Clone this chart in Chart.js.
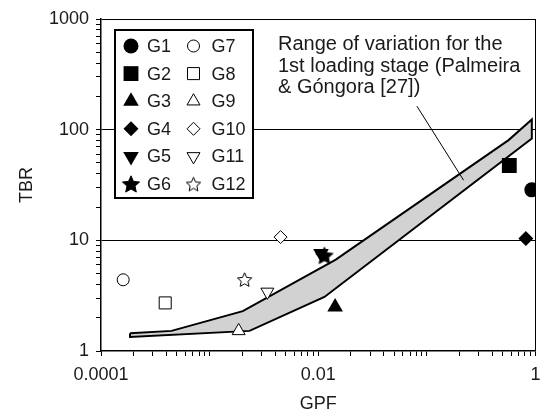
<!DOCTYPE html>
<html>
<head>
<meta charset="utf-8">
<script src="https://cdn.jsdelivr.net/npm/chart.js@4.4.1/dist/chart.umd.min.js"></script>
<style>
  body { margin: 0; background: #fff; }
  canvas { display: block; }
</style>
</head>
<body>
<canvas id="tbrChart" width="544" height="416"></canvas>
<script>
// groups and measured values (GPF, TBR)
const groups = ['G1', 'G2', 'G3', 'G4', 'G5', 'G6', 'G7', 'G8', 'G9', 'G10', 'G11', 'G12'];
const gpf = [0.925, 0.574, 0.0143, 0.815, 0.0106, 0.0114, 0.00016, 0.00039, 0.00185, 0.0045, 0.0034, 0.0021];
const tbr = [28.6, 47.4, 2.5, 10.4, 7.6, 7.3, 4.4, 2.72, 1.52, 10.7, 3.42, 4.43];

// range of variation band (Palmeira & Góngora)
const bandUpperX = [0.000185, 0.000446, 0.00202, 0.0145, 0.565, 0.925];
const bandUpperY = [1.45, 1.52, 2.29, 6.7, 80.5, 123.7];
const bandLowerX = [0.000185, 0.00233, 0.0114, 0.925];
const bandLowerY = [1.34, 1.52, 3.08, 83.2];

const xLabeled = [0.0001, 0.01, 1];
const yLabeled = [1, 10, 100, 1000];
const yGridAt = [10, 100, 1000];

const annotationLines = ['Range of variation for the', '1st loading stage (Palmeira', '& Góngora [27])'];

function logTicks(fromExp, toExp) {
    let out = [];
    for (let e = fromExp; e < toExp; e++) {
        for (let m = 1; m <= 9; m++) out.push(parseFloat(m + 'e' + e));
    }
    out.push(parseFloat('1e' + toExp));
    return out;
}

function makeStar(size, fill) {
    const c = document.createElement('canvas');
    c.width = size; c.height = size;
    const g = c.getContext('2d');
    const cx = size / 2, cy = size / 2 + 0.8;
    const ro = size / 2 - 1, ri = ro * 0.47;
    g.beginPath();
    for (let i = 0; i < 10; i++) {
        const r = i % 2 === 0 ? ro : ri;
        const a = -Math.PI / 2 + i * Math.PI / 5;
        g.lineTo(cx + r * Math.cos(a), cy + r * Math.sin(a));
    }
    g.closePath();
    g.fillStyle = fill;
    g.fill();
    g.strokeStyle = '#000';
    g.lineWidth = 1;
    g.stroke();
    return c;
}

const markers = [
    { style: 'circle', r: 7.5, fill: true },
    { style: 'rect', r: 10.5, fill: true },
    { style: 'triangle', r: 9, fill: true },
    { style: 'rectRot', r: 7.5, fill: true },
    { style: 'triangle', r: 9, fill: true, rot: 180 },
    { style: makeStar(20, '#000'), r: 10, fill: true },
    { style: 'circle', r: 6, fill: false },
    { style: 'rect', r: 8.5, fill: false },
    { style: 'triangle', r: 7.5, fill: false },
    { style: 'rectRot', r: 6.5, fill: false },
    { style: 'triangle', r: 7.5, fill: false, rot: 180 },
    { style: makeStar(17, '#fff'), r: 8.5, fill: false },
];

const pointSets = groups.map((g, i) => ({
    label: g,
    data: [{ x: gpf[i], y: tbr[i] }],
    pointStyle: markers[i].style,
    pointRadius: markers[i].r,
    pointRotation: markers[i].rot || 0,
    backgroundColor: markers[i].fill ? '#000' : '#fff',
    borderColor: '#000',
    borderWidth: markers[i].fill ? 0 : 1,
    showLine: false,
    order: 0,
}));

const bandPoly = bandUpperX.map((x, i) => ({ x: x, y: bandUpperY[i] }))
    .concat(bandLowerX.map((x, i) => ({ x: x, y: bandLowerY[i] })).reverse());
bandPoly.push(bandPoly[0]);

const bandSet = {
    label: 'band',
    data: bandPoly,
    showLine: true,
    fill: 'shape',
    backgroundColor: '#d2d2d2',
    borderColor: '#000',
    borderWidth: 2,
    pointRadius: 0,
    tension: 0,
    order: 5,
};

const groupLegend = {
    id: 'groupLegend',
    afterDraw(chart) {
        const ctx = chart.ctx;
        ctx.save();
        ctx.strokeStyle = '#000';
        ctx.lineWidth = 2;
        ctx.fillStyle = '#fff';
        ctx.fillRect(115, 30, 138, 168);
        ctx.strokeRect(115, 30, 138, 168);
        ctx.font = '18px Arial, "Liberation Sans", sans-serif';
        ctx.textBaseline = 'middle';
        pointSets.forEach((ds, i) => {
            const col = Math.floor(i / 6), row = i % 6;
            const px = col === 0 ? 131 : 193.5;
            const py = 46 + row * 27.6;
            ctx.fillStyle = ds.backgroundColor;
            ctx.strokeStyle = '#000';
            ctx.lineWidth = 1;
            Chart.helpers.drawPoint(ctx, {
                pointStyle: ds.pointStyle,
                radius: ds.pointRadius,
                rotation: ds.pointRotation,
                borderWidth: ds.borderWidth,
            }, px, py);
            ctx.fillStyle = '#1a1a1a';
            ctx.fillText(ds.label, col === 0 ? 147 : 211.5, py + 1);
        });
        ctx.restore();
    }
};

const bandNote = {
    id: 'bandNote',
    afterDatasetsDraw(chart) {
        const ctx = chart.ctx;
        const xs = chart.scales.x, ys = chart.scales.y;
        ctx.save();
        ctx.strokeStyle = '#000';
        ctx.lineWidth = 1;
        ctx.beginPath();
        ctx.moveTo(xs.getPixelForValue(0.081), ys.getPixelForValue(163));
        ctx.lineTo(xs.getPixelForValue(0.218), ys.getPixelForValue(34.9));
        ctx.stroke();
        ctx.fillStyle = '#1a1a1a';
        ctx.font = '20px Arial, "Liberation Sans", sans-serif';
        ctx.textBaseline = 'alphabetic';
        annotationLines.forEach((t, i) => ctx.fillText(t, 278, 50 + i * 21.7));
        ctx.restore();
    }
};

const ctx = document.getElementById('tbrChart').getContext('2d');
new Chart(ctx, {
    type: 'scatter',
    data: { datasets: [bandSet].concat(pointSets) },
    options: {
        responsive: false,
        animation: false,
        layout: { autoPadding: false, padding: { left: 0, right: 6, top: 19, bottom: 0 } },
        plugins: { legend: { display: false }, tooltip: { enabled: false } },
        scales: {
            x: {
                type: 'logarithmic',
                min: 0.0001,
                max: 1,
                afterBuildTicks: s => { s.ticks = logTicks(-4, 0).map(v => ({ value: v })); },
                afterFit: s => { s.height = 65; },
                ticks: {
                    autoSkip: false,
                    maxRotation: 0,
                    padding: 3.5,
                    color: '#1a1a1a',
                    font: { size: 18, lineHeight: 1.7 },
                    callback: v => xLabeled.includes(v) ? String(v) : '',
                },
                grid: {
                    color: c => (c.tick && c.tick.value === 1) ? '#000' : 'rgba(0,0,0,0)',
                    tickColor: '#000',
                    tickLength: 5,
                    lineWidth: 1,
                },
                border: { color: '#000', width: 1.5 },
                title: { display: true, text: 'GPF', color: '#1a1a1a', font: { size: 18 }, padding: { top: 0, bottom: 1 } },
            },
            y: {
                type: 'logarithmic',
                min: 1,
                max: 1000,
                afterBuildTicks: s => { s.ticks = logTicks(0, 3).map(v => ({ value: v })); },
                afterFit: s => { s.width = 101; },
                ticks: {
                    autoSkip: false,
                    padding: 7,
                    color: '#1a1a1a',
                    font: { size: 18 },
                    callback: v => yLabeled.includes(v) ? String(v) : '',
                },
                grid: {
                    color: c => (c.tick && yGridAt.includes(c.tick.value)) ? '#000' : 'rgba(0,0,0,0)',
                    tickColor: '#000',
                    tickLength: 5,
                    lineWidth: 1,
                },
                border: { color: '#000', width: 1.5 },
                title: { display: true, text: 'TBR', color: '#1a1a1a', font: { size: 18 }, padding: { top: 16, bottom: 0 } },
            },
        },
    },
    plugins: [bandNote, groupLegend],
});
</script>
</body>
</html>
